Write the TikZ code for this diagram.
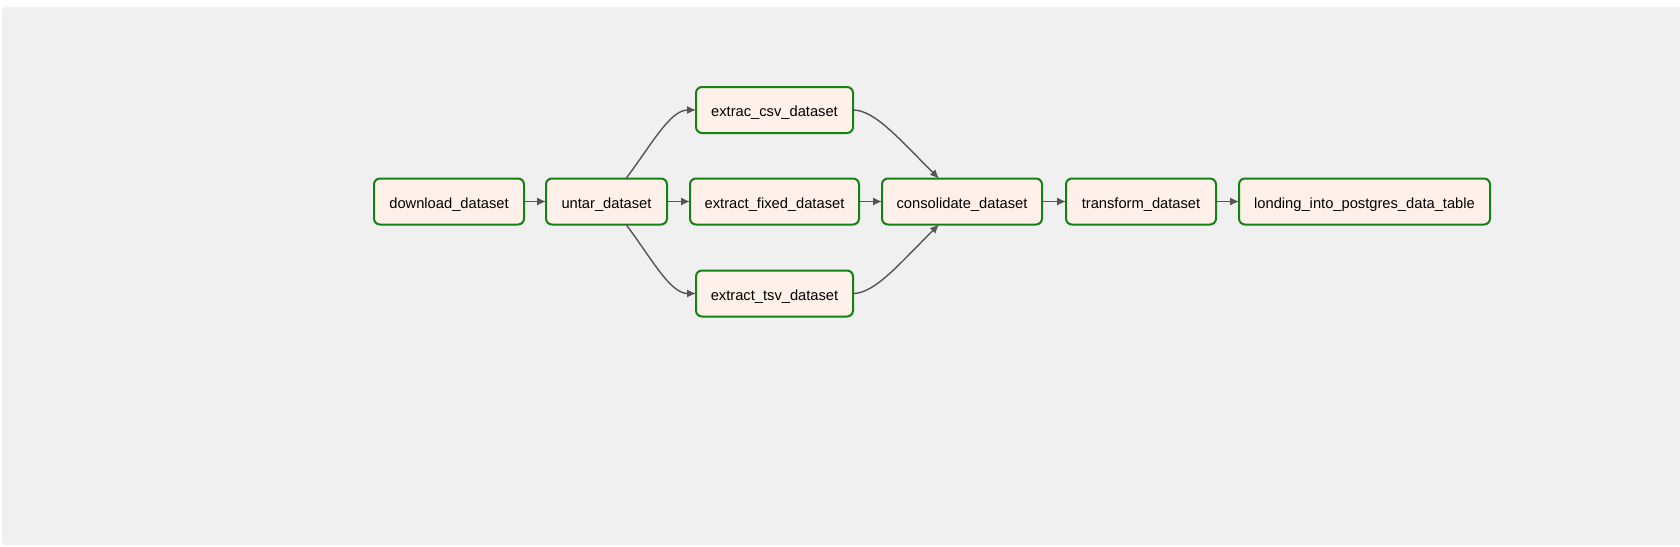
\documentclass[tikz,border=0pt]{standalone}
\usepackage{fontspec}
\setmainfont{Liberation Sans}
\usetikzlibrary{arrows.meta,calc}
\definecolor{bggray}{HTML}{F0F0F0}
\definecolor{boxfill}{HTML}{FFF0EA}
\definecolor{boxline}{HTML}{128212}
\definecolor{edgegray}{HTML}{555555}
\tikzset{
  task/.style={draw=boxline, fill=boxfill, line width=2pt, rounded corners=6pt,
    minimum height=46pt, inner sep=0pt, outer sep=0pt,
    text height=13.6pt, text depth=0pt,
    font=\fontsize{14.7pt}{17pt}\selectfont, text=black},
  edge/.style={draw=edgegray, line width=1.4pt,
    -{Latex[length=9pt,width=8pt]}},
}
\begin{document}
\begin{tikzpicture}[x=1pt,y=-1pt]
\useasboundingbox (0,0) rectangle (1680,546);
\fill[white] (0,0) rectangle (1680,546);
\fill[bggray, rounded corners=4pt] (2,7) rectangle (1690,545);
\node[task, minimum width=150pt] (download) at (449,201.5) {download\_dataset};
\node[task, minimum width=121pt] (untar) at (606.5,201.5) {untar\_dataset};
\node[task, minimum width=157pt] (csv) at (774.5,110) {extrac\_csv\_dataset};
\node[task, minimum width=169pt] (fixed) at (774.5,201.5) {extract\_fixed\_dataset};
\node[task, minimum width=157pt] (tsv) at (774.5,293.5) {extract\_tsv\_dataset};
\node[task, minimum width=160pt] (consol) at (962,201.5) {consolidate\_dataset};
\node[task, minimum width=150pt] (transform) at (1141,201.5) {transform\_dataset};
\node[task, minimum width=251pt] (londing) at (1364.5,201.5) {londing\_into\_postgres\_data\_table};
\draw[edge] (download) -- (untar);
\draw[edge] (untar) -- (fixed);
\draw[edge] (fixed) -- (consol);
\draw[edge] (consol) -- (transform);
\draw[edge] (transform) -- (londing);
\draw[edge] ([xshift=19.5pt]untar.north) .. controls (652,144) and (670,110) .. (csv.west);
\draw[edge] ([xshift=19.5pt]untar.south) .. controls (652,259) and (670,293.5) .. (tsv.west);
\draw[edge] (csv.east) .. controls (875,110) and (900,140) .. ([xshift=-23pt]consol.north);
\draw[edge] (tsv.east) .. controls (875,293.5) and (900,263) .. ([xshift=-23pt]consol.south);
\end{tikzpicture}
\end{document}
